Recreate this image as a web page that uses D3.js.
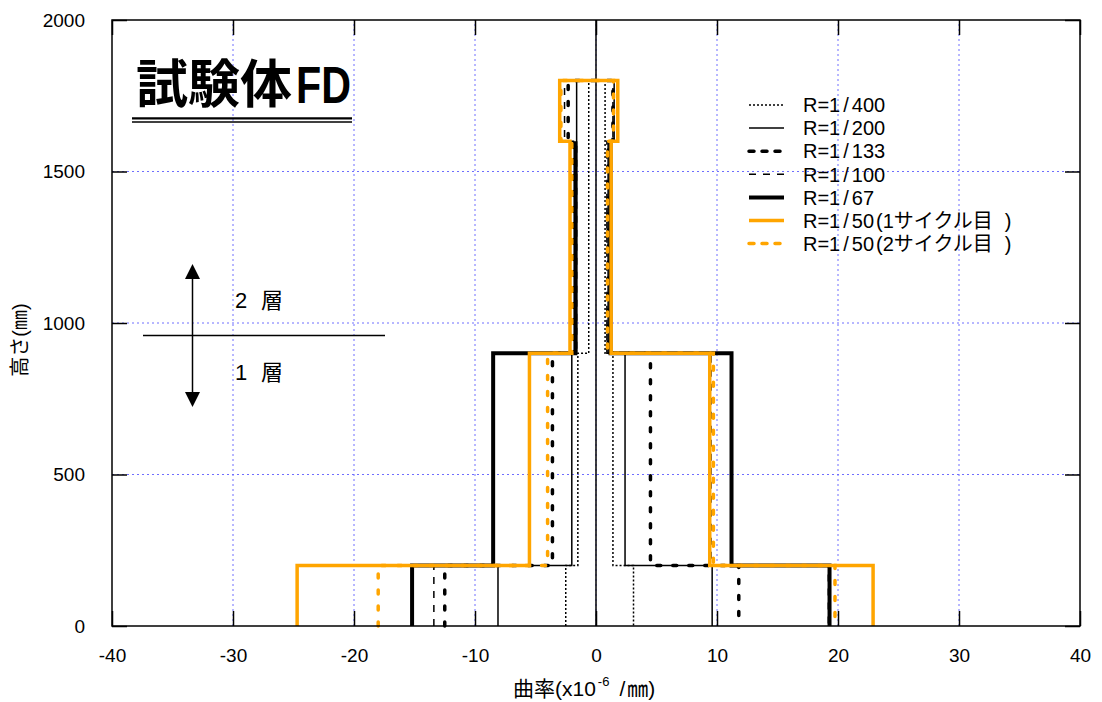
<!DOCTYPE html>
<html>
<head>
<meta charset="utf-8">
<script src="https://cdn.jsdelivr.net/npm/d3@7"></script>
<style>
  html, body { margin: 0; padding: 0; background: #fff; }
  svg { display: block; }
  text { font-family: "Liberation Sans", Arial, "Noto Sans CJK JP", sans-serif; fill: #000; }
</style>
</head>
<body>
<svg id="chart" width="1102" height="702"></svg>
<script>
// ---------- data ----------
const levels = [0, 200, 900, 1600, 1800];           // height boundaries (mm)
const xTicks = [-40, -30, -20, -10, 0, 10, 20, 30, 40];
const yTicks = [0, 500, 1000, 1500, 2000];
const seriesNames = ["R=1/400", "R=1/200", "R=1/133", "R=1/100", "R=1/67",
                     "R=1/50(1サイクル目)", "R=1/50(2サイクル目)"];
// curvature per segment [0-200, 200-900, 900-1600, 1600-1800], negative side / positive side
const r400Neg = [-2.5, -1.5, -0.6, -0.6];
const r400Pos = [3.1, 1.4, 0.75, 0.75];
const r200Neg = [-8.1, -2.0, -1.6, -1.6];
const r200Pos = [9.6, 2.4, 1.0, 1.5];
const r133Neg = [-12.5, -3.6, -1.8, -2.3];
const r133Pos = [11.8, 4.5, 1.0, 1.4];
const r100Neg = [-13.4, -8.5, -1.6, -2.6];
const r100Pos = [19.2, 9.5, 0.9, 1.4];
const r67Neg  = [-15.2, -8.5, -1.7, null];
const r67Pos  = [19.3, 11.2, 1.2, null];
const r50aNeg = [-24.7, -5.5, -2.15, -3.0];
const r50aPos = [22.9, 9.4, 1.25, 1.8];
const r50bNeg = [-18.0, -4.0, -2.0, -2.9];
const r50bPos = [19.75, 9.7, 0.95, 1.45];

const seriesNeg = [r400Neg, r200Neg, r133Neg, r100Neg, r67Neg, r50aNeg, r50bNeg];
const seriesPos = [r400Pos, r200Pos, r133Pos, r100Pos, r67Pos, r50aPos, r50bPos];

// ---------- styles ----------
const ORANGE = "#ffa500";
const styles = [
  { color: "#000", width: 1.5, dash: "2,2",  cap: "butt" },
  { color: "#000", width: 1.5, dash: null,   cap: "butt" },
  { color: "#000", width: 3.5, dash: "4,12", cap: "round" },
  { color: "#000", width: 1.5, dash: "7,7",  cap: "butt" },
  { color: "#000", width: 4,   dash: null,   cap: "butt" },
  { color: ORANGE, width: 3.5, dash: null,   cap: "butt" },
  { color: ORANGE, width: 3.5, dash: "4,12", cap: "round" }
];

// ---------- layout ----------
const svg = d3.select("#chart");
const W = 1080 - 112, H = 626 - 20;
const x = d3.scaleLinear().domain([-40, 40]).range([112, 112 + W]);
const y = d3.scaleLinear().domain([0, 2000]).range([20 + H, 20]);

// grid
const grid = svg.append("g");
grid.selectAll("line.gx").data(xTicks.slice(1, -1)).enter().append("line")
  .attr("x1", d => x(d)).attr("x2", d => x(d)).attr("y1", y(0)).attr("y2", y(2000))
  .attr("stroke", "#6e6eff").attr("stroke-width", 1).attr("stroke-dasharray", "2,3");
grid.selectAll("line.gy").data(yTicks.slice(1, -1)).enter().append("line")
  .attr("y1", d => y(d)).attr("y2", d => y(d)).attr("x1", x(-40)).attr("x2", x(40))
  .attr("stroke", "#6e6eff").attr("stroke-width", 1).attr("stroke-dasharray", "2,3");

// zero line
svg.append("line").attr("x1", x(0)).attr("x2", x(0)).attr("y1", y(0)).attr("y2", y(2000))
  .attr("stroke", "#000").attr("stroke-width", 1.5);

// axes (ticks inward on all sides)
const tickLen = 15;
const fmt = d => String(d);
const axB = svg.append("g").attr("transform", `translate(0,${y(0)})`)
  .call(d3.axisBottom(x).tickValues(xTicks).tickFormat(fmt).tickSizeInner(-tickLen).tickSizeOuter(0).tickPadding(tickLen + 8));
const axT = svg.append("g").attr("transform", `translate(0,${y(2000)})`)
  .call(d3.axisTop(x).tickValues(xTicks).tickSizeInner(-tickLen).tickSizeOuter(0).tickFormat(""));
const axL = svg.append("g").attr("transform", `translate(${x(-40)},0)`)
  .call(d3.axisLeft(y).tickValues(yTicks).tickFormat(fmt).tickSizeInner(-tickLen).tickSizeOuter(0).tickPadding(tickLen + 12));
const axR = svg.append("g").attr("transform", `translate(${x(40)},0)`)
  .call(d3.axisRight(y).tickValues(yTicks).tickSizeInner(-tickLen).tickSizeOuter(0).tickFormat(""));
[axB, axT, axL, axR].forEach(a => {
  a.select(".domain").remove();
  a.selectAll(".tick line").attr("stroke", "#000").attr("stroke-width", 1.5);
  a.selectAll(".tick text").attr("font-size", 19).attr("font-family", "Liberation Sans, Arial, sans-serif").attr("fill", "#000");
});

// series
const line = d3.line().defined(d => d[0] !== null).x(d => x(d[0])).y(d => y(d[1]));
function profile(neg, pos) {
  const pts = [];
  for (let i = 0; i < 4; i++) { pts.push([neg[i], levels[i]]); pts.push([neg[i], levels[i + 1]]); }
  for (let i = 3; i >= 0; i--) { pts.push([pos[i], levels[i + 1]]); pts.push([pos[i], levels[i]]); }
  return pts;
}
const gSeries = svg.append("g");
seriesNames.forEach((name, i) => {
  const s = styles[i];
  gSeries.append("path")
    .attr("d", line(profile(seriesNeg[i], seriesPos[i])))
    .attr("fill", "none").attr("stroke", s.color).attr("stroke-width", s.width)
    .attr("stroke-dasharray", s.dash).attr("stroke-linecap", s.cap).attr("stroke-linejoin", "miter");
});

// frame
svg.append("rect").attr("x", x(-40)).attr("y", y(2000)).attr("width", W).attr("height", H)
  .attr("fill", "none").attr("stroke", "#000").attr("stroke-width", 1.5);

// legend
const lg = svg.append("g");
const legY0 = 105, legDy = 23.1;
seriesNames.forEach((name, i) => {
  const s = styles[i];
  const yy = legY0 + i * legDy;
  lg.append("line").attr("x1", 749).attr("x2", 784).attr("y1", yy).attr("y2", yy)
    .attr("stroke", s.color).attr("stroke-width", s.width)
    .attr("stroke-dasharray", s.dash === "4,12" ? "5,8" : s.dash).attr("stroke-linecap", s.cap);
  const t = lg.append("text").attr("x", 803).attr("y", yy).attr("dy", "0.36em").attr("font-size", 20);
  // split into pieces to reproduce the wide spacing around "/" and ")"
  const m = name.match(/^(R=1)\/(\d+)(\((.*)\))?$/);
  t.append("tspan").text(m[1]);
  t.append("tspan").attr("dx", 3).text("/");
  t.append("tspan").attr("dx", 3).text(m[2]);
  if (m[3]) {
    t.append("tspan").attr("dx", 2).text("(");
    t.append("tspan").text(m[4]);
    t.append("tspan").attr("dx", 12).text(")");
  }
});

// title
svg.append("text").attr("x", 136).attr("y", 103).attr("font-size", 52).attr("font-weight", "bold")
  .attr("font-family", "Noto Sans CJK JP, sans-serif").text("試験体");
svg.append("text").attr("x", 296).attr("y", 103).attr("font-size", 51).attr("font-weight", "bold")
  .attr("font-family", "Liberation Sans, Arial, sans-serif")
  .attr("textLength", 55).attr("lengthAdjust", "spacingAndGlyphs").text("FD");
svg.append("line").attr("x1", 132).attr("x2", 352).attr("y1", 118.3).attr("y2", 118.3).attr("stroke", "#000").attr("stroke-width", 2.2);
svg.append("line").attr("x1", 132).attr("x2", 352).attr("y1", 122).attr("y2", 122).attr("stroke", "#000").attr("stroke-width", 1.5);

// layer annotation
svg.append("line").attr("x1", 143).attr("x2", 385).attr("y1", 335.5).attr("y2", 335.5)
  .attr("stroke", "#000").attr("stroke-width", 1.5);
svg.append("line").attr("x1", 192.5).attr("x2", 192.5).attr("y1", 272).attr("y2", 398)
  .attr("stroke", "#000").attr("stroke-width", 1.5);
svg.append("path").attr("d", "M192.5,264 L185,279 L200,279 Z").attr("fill", "#000");
svg.append("path").attr("d", "M192.5,407 L185,392 L200,392 Z").attr("fill", "#000");
[["2", "層", 308], ["1", "層", 380]].forEach(([n, k, yy]) => {
  const t = svg.append("text").attr("x", 235).attr("y", yy).attr("font-size", 22);
  t.append("tspan").text(n);
  t.append("tspan").attr("x", 261).attr("font-family", "Noto Sans CJK JP, sans-serif").text(k);
});

// axis titles
const xt = svg.append("text").attr("x", 513).attr("y", 696).attr("font-size", 21);
xt.append("tspan").attr("font-family", "Noto Sans CJK JP, sans-serif").text("曲率");
xt.append("tspan").text("(x10");
xt.append("tspan").attr("dy", -10).attr("dx", 2).attr("font-size", 13).text("-6");
xt.append("tspan").attr("dy", 10).attr("dx", 10).text("/");
xt.append("tspan").attr("dx", 2).text("㎜)");
svg.append("text").attr("transform", "translate(27,340) rotate(-90)").attr("text-anchor", "middle")
  .attr("font-size", 20).text("高さ(㎜)");
</script>
</body>
</html>
